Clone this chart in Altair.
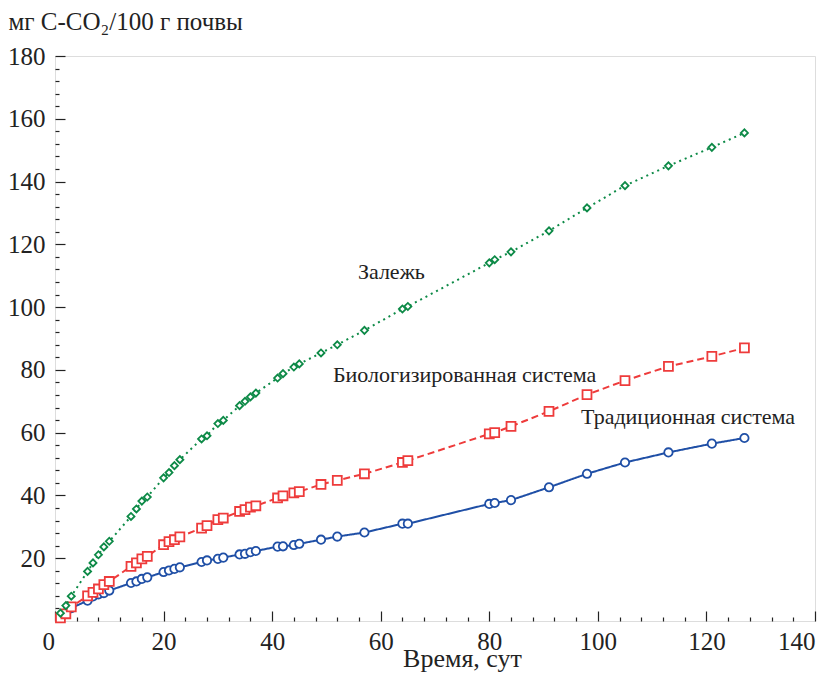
import altair as alt
import pandas as pd

# ---- data ----
days = [1, 2, 3, 6, 7, 8, 9, 10, 14, 15, 16, 17, 20, 21, 22, 23, 27, 28, 30, 31,
        34, 35, 36, 37, 41, 42, 44, 45, 49, 52, 57, 64, 65, 80, 81, 84, 91, 98,
        105, 113, 121, 127]
trad = [1.0, 2.5, 4.1, 6.5, 7.8, 8.5, 8.9, 9.7, 12.1, 12.6, 13.4, 13.9, 15.6, 16.1,
        16.6, 17.1, 18.8, 19.3, 19.8, 20.2, 21.2, 21.4, 21.9, 22.3, 23.7, 23.8,
        24.2, 24.6, 25.9, 26.9, 28.2, 31.0, 31.0, 37.3, 37.6, 38.5, 42.6, 46.9,
        50.5, 53.7, 56.5, 58.3]
bio = [1.0, 2.3, 4.5, 8.0, 9.1, 10.2, 11.6, 12.6, 17.4, 18.5, 19.8, 20.6, 24.3,
       25.3, 25.9, 26.8, 29.6, 30.4, 32.3, 32.8, 34.9, 35.5, 36.3, 36.7, 39.2,
       39.9, 40.8, 41.2, 43.5, 44.8, 46.9, 50.5, 51.1, 59.6, 60.0, 62.0, 66.8,
       72.1, 76.6, 81.1, 84.3, 87.0]
fallow = [2.5, 4.9, 7.9, 15.8, 18.5, 21.1, 23.6, 25.4, 33.3, 35.7, 38.2, 39.5,
          45.6, 47.3, 49.5, 51.4, 58.0, 59.0, 62.9, 63.9, 68.6, 70.0, 71.4, 72.6,
          77.4, 78.8, 80.9, 81.9, 85.4, 88.0, 92.6, 99.4, 100.2, 114.1, 115.1,
          117.6, 124.3, 131.6, 138.7, 145.0, 150.9, 155.5]

series_names = ["Традиционная система", "Биологизированная система", "Залежь"]
series_values = [trad, bio, fallow]
colors = ["#1f4fa6", "#ee3b3b", "#0d8a47"]
shapes = ["circle", "square", "diamond"]
sizes = [70, 80, 50]
dashes = [[1, 0], [7, 4], [2, 4]]

label_text = ["Залежь", "Биологизированная система", "Традиционная система"]
label_x = [55.8, 51.2, 96.9]
label_y = [109.0, 76.3, 62.9]

x_major = list(range(0, 141, 20))
x_minor = [v for v in range(0, 141, 4) if v % 20 != 0]
y_major = list(range(20, 181, 20))
y_minor = [v for v in range(0, 181, 4) if v % 20 != 0]

FONT = "'Liberation Serif', 'Times New Roman', 'DejaVu Serif', serif"
INK = "#222222"

xscale = alt.Scale(domain=[0, 140], nice=False, zero=False)
yscale = alt.Scale(domain=[0, 180], nice=False, zero=False)

# axes
x_main = alt.Axis(values=x_major, ticks=False, domain=False, grid=False,
                  labelPadding=8, labelFontSize=25, labelFont=FONT, labelColor=INK,
                  labelOffset={"condition": {"test": "datum.value == 0", "value": -13}, "value": 0},
                  title="Время, сут", titleFont=FONT, titleFontSize=26,
                  titleFontWeight="normal", titleColor=INK, titleX=407, titleY=45,
                  titleAlign="center", titleBaseline="alphabetic", orient="bottom")
y_main = alt.Axis(values=y_major, ticks=False, domain=False, grid=False,
                  labelPadding=10, labelFontSize=25, labelFont=FONT, labelColor=INK,
                  title="мг C-CO₂/100 г почвы", titleFont=FONT, titleFontSize=25,
                  titleFontWeight="normal", titleColor=INK, titleAngle=0,
                  titleX=-47, titleY=-27, titleAlign="left",
                  titleBaseline="alphabetic", orient="left")
x_maj_ticks = alt.Axis(values=x_major, labels=False, domain=False, grid=False,
                       ticks=True, tickSize=10, offset=-10, tickColor=INK,
                       tickWidth=1.2, title=None, orient="bottom")
y_maj_ticks = alt.Axis(values=y_major, labels=False, domain=False, grid=False,
                       ticks=True, tickSize=10, offset=-10, tickColor=INK,
                       tickWidth=1.2, title=None, orient="left")
x_min_ticks = alt.Axis(values=x_minor, labels=False, domain=False, grid=False,
                       ticks=True, tickSize=4, offset=-4, tickColor=INK,
                       tickWidth=1.2, title=None, orient="bottom")
y_min_ticks = alt.Axis(values=y_minor, labels=False, domain=False, grid=False,
                       ticks=True, tickSize=4, offset=-4, tickColor=INK,
                       tickWidth=1.2, title=None, orient="left")
axes_pairs = [(x_main, y_main), (x_maj_ticks, y_maj_ticks), (x_min_ticks, y_min_ticks)]

layers = []
for i, name in enumerate(series_names):
    df = pd.DataFrame({"day": days, "val": series_values[i]})
    xa, ya = axes_pairs[i]
    line = alt.Chart(df).mark_line(color=colors[i], strokeWidth=2,
                                   strokeDash=dashes[i]).encode(
        x=alt.X("day:Q", scale=xscale, axis=xa),
        y=alt.Y("val:Q", scale=yscale, axis=ya),
    )
    pts = alt.Chart(df).mark_point(shape=shapes[i], filled=True, fill="white",
                                   stroke=colors[i], strokeWidth=1.8,
                                   size=sizes[i], opacity=1).encode(
        x=alt.X("day:Q", scale=xscale, axis=None),
        y=alt.Y("val:Q", scale=yscale, axis=None),
    )
    layers += [line, pts]

lab_df = pd.DataFrame({"t": label_text, "x": label_x, "y": label_y})
labels = alt.Chart(lab_df).mark_text(font=FONT, fontSize=22, color=INK,
                                     align="left", baseline="alphabetic").encode(
    x=alt.X("x:Q", scale=xscale, axis=None),
    y=alt.Y("y:Q", scale=yscale, axis=None),
    text="t:N",
)
layers.append(labels)

chart = alt.layer(*layers).resolve_axis(x="independent", y="independent").properties(
    width=760, height=565,
    autosize=alt.AutoSizeParams(type="none"),
    padding={"left": 47, "top": 48, "right": 13, "bottom": 51},
).configure_view(stroke=INK, strokeWidth=1.5).configure(background="white")

chart.save("out.html", embed_options={"renderer": "svg", "actions": False})
